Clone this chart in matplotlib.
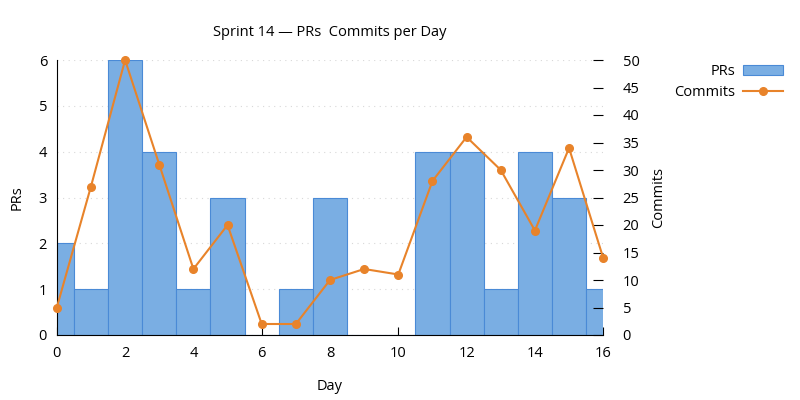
import numpy as np
import matplotlib
matplotlib.use('Agg')
from matplotlib import pyplot as plt

days = list(range(17))
prs = [2, 1, 6, 4, 1, 3, 0, 1, 3, 0, 0, 4, 4, 1, 4, 3, 1]
commits = [5, 27, 50, 31, 12, 20, 2, 2, 10, 12, 11, 28, 36, 30, 19, 34, 14]

plt.rcParams['font.family'] = ['Open Sans', 'DejaVu Sans']
plt.rcParams['font.size'] = 10.5

bar_color = '#7aaee3'
bar_edge = '#4a8ad6'
line_color = '#e8832a'

fig = plt.figure(figsize=(8, 4), dpi=100)
ax = fig.add_axes([0.071, 0.1625, 0.683, 0.6875])
ax2 = ax.twinx()

bars = ax.bar(days, prs, width=1.0, color=bar_color, edgecolor=bar_edge,
              linewidth=0.8, label='PRs', zorder=2)
line, = ax2.plot(days, commits, color=line_color, linewidth=1.5, marker='o',
                 markersize=5.5, label='Commits', zorder=3, clip_on=False)

ax.set_xlim(0, 16)
ax.set_ylim(0, 6)
ax2.set_ylim(0, 50)
ax.set_xticks(range(0, 17, 2))
ax.set_yticks(range(0, 7))
ax2.set_yticks(range(0, 51, 5))

ax.grid(axis='y', linestyle=(0, (1, 4)), color='#d8d8d8', linewidth=0.8)
ax.set_axisbelow(True)

for a in (ax, ax2):
    a.spines['top'].set_visible(False)
    a.spines['right'].set_visible(False)
ax2.spines['left'].set_visible(False)
ax2.spines['bottom'].set_visible(False)

ax.tick_params(axis='x', direction='in', length=6, pad=8)
ax.tick_params(axis='y', direction='in', length=0, pad=7)
ax2.tick_params(axis='y', direction='in', length=7, pad=14)

ax.set_xlabel('Day', labelpad=13)
ax.set_ylabel('PRs', labelpad=10)
ax2.set_ylabel('Commits', labelpad=8)
ax.set_title('Sprint 14 \u2014 PRs  Commits per Day', pad=17, fontsize=10.5)

ax2.set_zorder(ax.get_zorder() + 1)
ax2.patch.set_visible(False)

fig.legend([bars, line], ['PRs', 'Commits'], loc='upper right',
           bbox_to_anchor=(0.979, 0.84), frameon=False, markerfirst=False,
           borderpad=0, borderaxespad=0,
           handlelength=2.75, handletextpad=0.55, labelspacing=0.4)

fig.savefig('out.png', dpi=100)
